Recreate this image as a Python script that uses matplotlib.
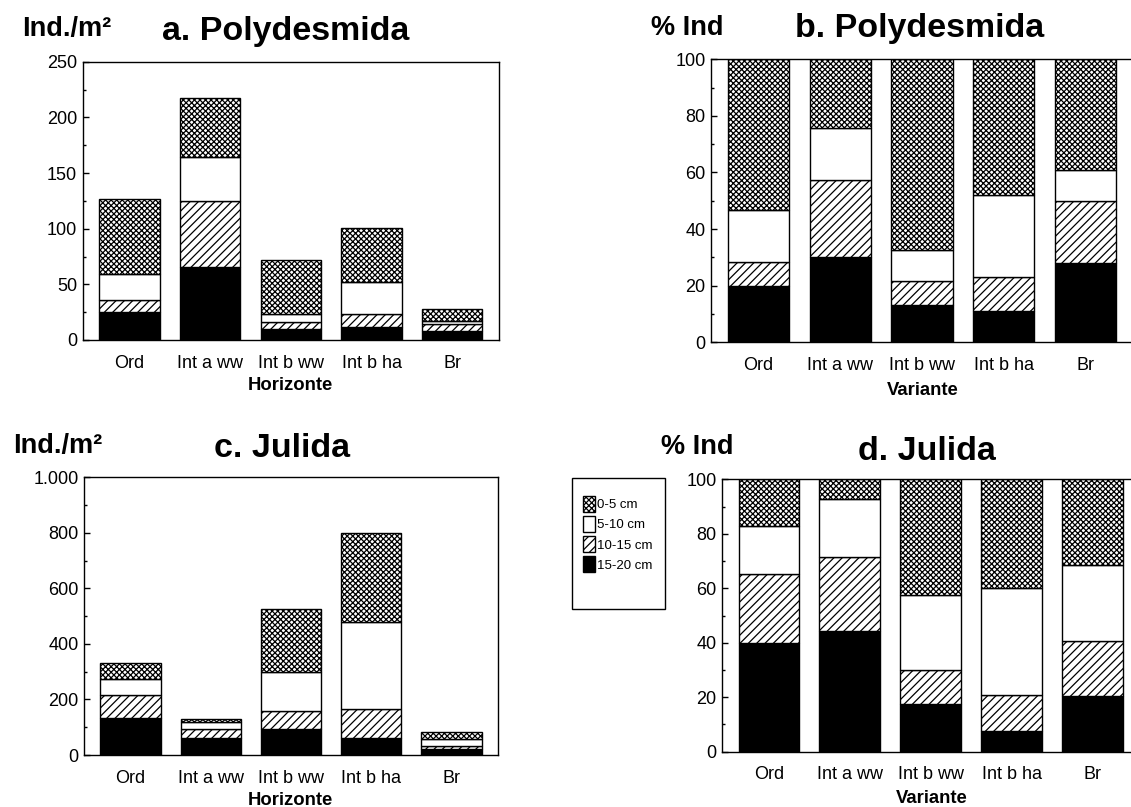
import matplotlib
matplotlib.use("Agg")
import matplotlib.pyplot as plt
from matplotlib.patches import Patch, Rectangle
from matplotlib.ticker import MultipleLocator, FuncFormatter
import numpy as np

plt.rcParams["font.family"] = "Liberation Sans"
plt.rcParams["hatch.linewidth"] = 0.9
plt.rcParams["hatch.color"] = "black"

# Sampling units and depth layers
units = ["Ord", "Int a ww", "Int b ww", "Int b ha", "Br"]
layers = ["0-5 cm", "5-10 cm", "10-15 cm", "15-20 cm"]

# a. Polydesmida, Ind./m2 per depth layer
poly_abs_15_20 = [25.4, 65.9, 9.9, 11.4, 8.4]
poly_abs_10_15 = [10.5, 58.7, 6.0, 12.3, 5.7]
poly_abs_5_10 = [23.1, 40.1, 7.1, 28.7, 2.9]
poly_abs_0_5 = [67.3, 53.0, 48.9, 48.5, 11.1]

# b. Polydesmida, % of individuals
poly_pct_15_20 = [20.0, 30.3, 13.3, 11.1, 28.0]
poly_pct_10_15 = [8.4, 26.9, 8.4, 12.1, 22.1]
poly_pct_5_10 = [18.4, 18.4, 10.8, 29.0, 10.8]
poly_pct_0_5 = [53.2, 24.4, 67.5, 47.8, 39.1]

# c. Julida, Ind./m2 per depth layer
jul_abs_15_20 = [134, 60, 94, 60, 20]
jul_abs_10_15 = [82, 34, 63, 106, 12]
jul_abs_5_10 = [58, 26, 143, 312, 24]
jul_abs_0_5 = [57, 11, 226, 320, 27]

# d. Julida, % of individuals
jul_pct_15_20 = [40.0, 44.3, 17.6, 7.6, 20.4]
jul_pct_10_15 = [25.2, 27.2, 12.5, 13.1, 20.4]
jul_pct_5_10 = [17.8, 21.3, 27.4, 39.3, 27.6]
jul_pct_0_5 = [17.0, 7.2, 42.5, 40.0, 31.6]

# fill style per layer
styles = {
    "15-20 cm": dict(facecolor="black", hatch=None),
    "10-15 cm": dict(facecolor="white", hatch="////"),
    "5-10 cm": dict(facecolor="white", hatch=None),
    "0-5 cm": dict(facecolor="white", hatch="xxxxxx"),
}

W, H = 1131, 807
fig = plt.figure(figsize=(W / 100, H / 100), dpi=100)


def px_axes(left, top, width, height):
    return fig.add_axes([left / W, 1 - (top + height) / H, width / W, height / H])


def stacked(ax, series, ymax, major, minor, fmt=None):
    x = np.arange(len(units))
    bottom = np.zeros(len(units))
    # deepest layer at the bottom of each bar
    for name, vals in zip(["15-20 cm", "10-15 cm", "5-10 cm", "0-5 cm"], series):
        st = styles[name]
        ax.bar(x, vals, 0.75, bottom=bottom, facecolor=st["facecolor"],
               hatch=st["hatch"], edgecolor="black", linewidth=1.0)
        bottom += np.array(vals)
    ax.set_xlim(-0.58, 4.58)
    ax.set_ylim(0, ymax)
    ax.set_xticks(x)
    ax.set_xticklabels(units, fontsize=13)
    ax.tick_params(axis="x", length=0, pad=10.5)
    ax.yaxis.set_major_locator(MultipleLocator(major))
    ax.yaxis.set_minor_locator(MultipleLocator(minor))
    ax.tick_params(axis="y", which="major", direction="in", length=4.2, width=1,
                   labelsize=13, pad=4)
    ax.tick_params(axis="y", which="minor", direction="in", length=2.4, width=1)
    if fmt is not None:
        ax.yaxis.set_major_formatter(FuncFormatter(fmt))
    for s in ax.spines.values():
        s.set_linewidth(1.0)


ax_a = px_axes(82.7, 61.7, 416.3, 278.3)
stacked(ax_a, [poly_abs_15_20, poly_abs_10_15, poly_abs_5_10, poly_abs_0_5], 250, 50, 25)

ax_b = px_axes(711, 59.3, 422, 283)
stacked(ax_b, [poly_pct_15_20, poly_pct_10_15, poly_pct_5_10, poly_pct_0_5], 100, 20, 10)

ax_c = px_axes(84, 477.3, 414, 277.7)
stacked(ax_c, [jul_abs_15_20, jul_abs_10_15, jul_abs_5_10, jul_abs_0_5], 1000, 200, 100,
        fmt=lambda v, p: f"{v:,.0f}".replace(",", "."))

ax_d = px_axes(722, 479.3, 417.4, 272.4)
stacked(ax_d, [jul_pct_15_20, jul_pct_10_15, jul_pct_5_10, jul_pct_0_5], 100, 20, 10)


def ftext(x, y, s, size, **kw):
    fig.text(x / W, 1 - y / H, s, fontsize=size, va="baseline", **kw)


# panel titles and unit labels
ftext(286, 40, "a. Polydesmida", 24.5, ha="center", weight="bold")
ftext(22, 36, "Ind./m²", 19.5, ha="left", weight="bold")
ftext(919.6, 37, "b. Polydesmida", 24.5, ha="center", weight="bold")
ftext(651, 35, "% Ind", 19.5, ha="left", weight="bold")
ftext(281.7, 457, "c. Julida", 24.5, ha="center", weight="bold")
ftext(12.7, 452.7, "Ind./m²", 19.5, ha="left", weight="bold")
ftext(927, 460, "d. Julida", 24.5, ha="center", weight="bold")
ftext(661, 454, "% Ind", 19.5, ha="left", weight="bold")

# axis titles
ftext(290.5, 390, "Horizonte", 13.3, ha="center", weight="bold")
ftext(923, 395, "Variante", 13.3, ha="center", weight="bold")
ftext(290.5, 805, "Horizonte", 13.3, ha="center", weight="bold")
ftext(932, 803, "Variante", 13.3, ha="center", weight="bold")

# legend entries, framed by a separate box
handles = [Patch(facecolor=styles[n]["facecolor"], hatch=styles[n]["hatch"],
                 edgecolor="black", linewidth=1.0) for n in layers]
fig.legend(handles, layers, loc="upper left", bbox_to_anchor=(583 / W, 1 - 496 / H),
           frameon=False, fontsize=9.5, handlelength=0.94, handleheight=1.5,
           handletextpad=0.15, labelspacing=0.3, borderpad=0, borderaxespad=0)
fig.patches.append(Rectangle((571.7 / W, 1 - 609 / H), 93.2 / W, 131.3 / H,
                             transform=fig.transFigure, facecolor="none",
                             edgecolor="black", linewidth=1.0))

fig.savefig("out.png", dpi=100)
